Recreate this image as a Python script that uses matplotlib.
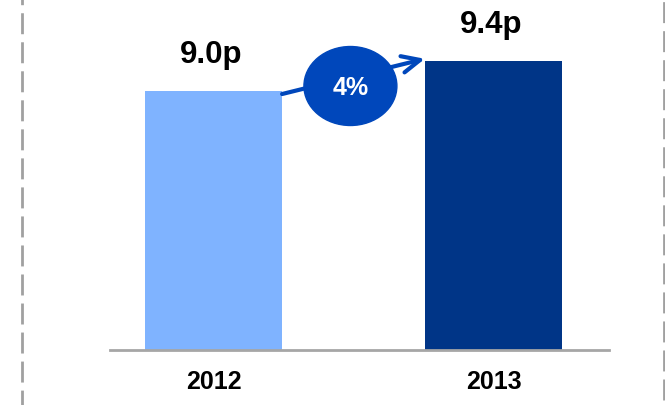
import matplotlib
matplotlib.use("Agg")
import matplotlib.pyplot as plt
from matplotlib.patches import Ellipse
from matplotlib.lines import Line2D

plt.rcParams['font.family'] = ['Liberation Sans', 'DejaVu Sans']
plt.rcParams['lines.scale_dashes'] = False

years = ["2012", "2013"]
dividend = [9.0, 9.4]
labels = ["9.0p", "9.4p"]
growth = "4%"
colors = ["#7FB3FF", "#003587"]
bubble_color = "#0047BB"

fig = plt.figure(figsize=(6.65, 4.06), dpi=100)
ax = fig.add_axes([110 / 665, 55 / 406, 499 / 665, 351 / 406])

x = list(range(len(years)))
width = 0.49
bars = ax.bar(x, dividend, width=width, color=colors, bottom=0)

ax.set_xlim(-0.3696, 1.4125)
ax.set_ylim(5.547, 10.227)

for b, lab in zip(bars, labels):
    ax.annotate(lab, (b.get_x() + b.get_width() / 2, b.get_height()),
                xytext=(-2, 21), textcoords="offset points",
                ha="center", va="baseline", fontsize=22.5, fontweight="bold")

# growth arrow between the bars
x0 = x[0] + width / 2
x1 = x[1] - width / 2
ax.annotate("", xy=(x1, dividend[1] + 0.03), xytext=(x0, dividend[0] - 0.04),
            arrowprops=dict(arrowstyle="->,head_length=1.3,head_width=0.6",
                            color=bubble_color, lw=3, shrinkA=0, shrinkB=0))
ax.add_patch(Ellipse((0.489, 9.067), 0.332, 1.053, color=bubble_color, zorder=3))
ax.text(0.489, 9.06, growth, color="white", fontsize=18, fontweight="bold",
        ha="center", va="center", zorder=4)

for s in ["top", "right", "left"]:
    ax.spines[s].set_visible(False)
ax.spines["bottom"].set_color("#A6A6A6")
ax.spines["bottom"].set_linewidth(2)
ax.set_yticks([])
ax.set_xticks(x)
ax.set_xticklabels(years, fontsize=18, fontweight="bold")
ax.tick_params(axis="x", length=0, pad=14)

# dashed frame on the sides
for xp, off in [(21.5, 11), (663.5, 19)]:
    fig.add_artist(Line2D([xp / 665, xp / 665], [1, 0], transform=fig.transFigure,
                          color="#A0A0A0", lw=2, linestyle=(off, (15.1, 5.8))))

fig.savefig("out.png", dpi=100)
